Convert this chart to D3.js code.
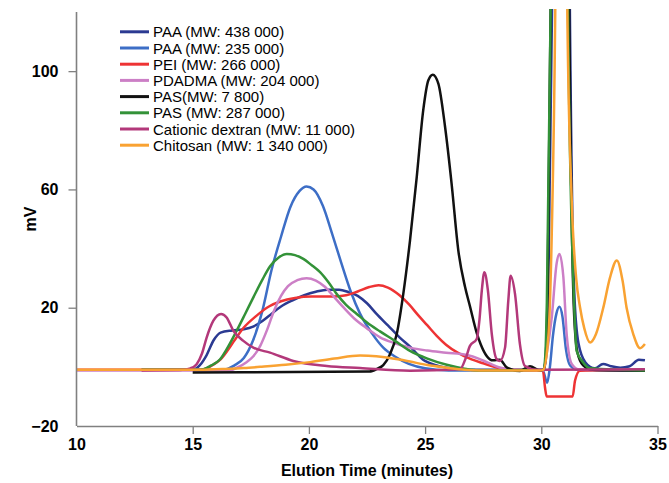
<!DOCTYPE html>
<html>
<head>
<meta charset="utf-8">
<script src="https://cdn.jsdelivr.net/npm/d3@7"></script>
<style>
  body { margin: 0; background: white; }
  text { font-family: "Liberation Sans", Arial, sans-serif; }
</style>
</head>
<body>
<div id="chart"></div>
<script>
// tick values
const xTicks = [10, 15, 20, 25, 30, 35];
const yTicks = [-20, 20, 60, 100];

// series: [minutes, mV]
const paa438 = [[12.8,-1],[15.0,-1],[15.3,0.5],[15.6,4],[15.9,9],[16.2,11.6],[16.7,12.3],[17.2,12.7],[17.6,13.6],[18.0,15.5],[18.4,18],[18.8,20.4],[19.3,22.5],[19.8,24.2],[20.3,25.4],[20.8,26.1],[21.3,26.1],[21.7,25.3],[22.1,24],[22.5,21.5],[22.9,18],[23.4,14],[23.9,10],[24.4,6.5],[24.9,2.5],[25.5,0.5],[26.2,-0.6],[27,-1],[30.1,-1],[30.22,5],[30.3,25],[30.46,120],[30.85,700],[31.23,120],[31.42,25],[31.6,8],[31.9,1.5],[32.3,-0.5],[32.66,1],[33.0,0.2],[33.4,-0.3],[33.8,0.2],[34.2,2.4],[34.46,2.2]];
const paa235 = [[12.8,-1],[16.3,-1],[16.8,0.5],[17.2,3],[17.6,9],[18.0,19],[18.4,33],[18.8,44],[19.2,54],[19.6,59.5],[19.9,61],[20.2,60],[20.6,54.5],[21.0,45],[21.4,35],[21.8,25.5],[22.2,18],[22.7,11.5],[23.2,6.5],[23.7,3.5],[24.3,1],[25,-0.5],[26,-1.2],[30.07,-1.3],[30.25,-5.4],[30.37,0],[30.5,10.5],[30.65,18],[30.78,20.3],[30.91,17],[31.06,6],[31.24,0.5],[31.58,-1],[34.46,-1.3]];
const pei = [[10,-1],[15.3,-1],[15.6,-0.5],[15.9,0.8],[16.2,2.5],[16.5,5.5],[16.8,9],[17.2,13.3],[17.7,17],[18.3,20.5],[18.8,22.2],[19.4,23.3],[20.1,23.8],[21.0,23.8],[21.6,24.2],[22.1,25.5],[22.6,27],[23.0,27.6],[23.4,26.8],[23.9,24.2],[24.3,21.2],[24.7,17.5],[25.1,14],[25.5,10.5],[25.9,7.5],[26.4,4.8],[27.0,2.5],[27.5,1.2],[28.2,-0.4],[29.1,-1.1],[30.07,-1.3],[30.16,-7],[30.23,-10],[31.35,-10],[31.45,-4.7],[31.66,-1.3],[34.46,-1]];
const pdadma = [[10,-1.2],[16.6,-1.2],[16.9,-0.3],[17.3,1.5],[17.6,3.5],[17.9,7],[18.2,12.5],[18.5,19],[18.8,24],[19.1,27.3],[19.5,29.3],[19.9,30],[20.3,29.2],[20.7,27],[21.1,23.5],[21.5,20],[22.0,16],[22.5,13],[23.06,10],[23.7,8],[24.35,6.5],[25.1,5.5],[25.9,4.8],[26.8,4],[27.3,2.8],[27.7,1.4],[28.2,-0.2],[29,-1],[30.1,-1.2],[30.23,4.3],[30.45,16.7],[30.66,35],[30.78,38.2],[30.95,30.3],[31.09,11.2],[31.31,1],[31.6,-0.8],[34.46,-1]];
const pas7800 = [[15.0,-1.9],[22.6,-1.6],[22.95,-0.6],[23.2,0.6],[23.49,4.3],[23.78,11.1],[24.06,24.6],[24.35,42.7],[24.64,64.2],[24.92,86.8],[25.14,96.9],[25.33,98.8],[25.57,95.8],[25.86,81.1],[26.14,62],[26.43,39.3],[26.72,27],[26.93,20.5],[27.22,11.5],[27.4,7.5],[27.65,3.7],[27.92,2.2],[28.22,2.4],[28.51,-0.2],[29.08,-1.4],[29.51,0.2],[29.94,-1.2],[30.1,-1],[30.2,5],[30.27,25],[30.4,120],[30.8,700],[31.2,120],[31.4,20],[31.55,5],[31.8,0.5],[32.2,-1],[34.46,-1.3]];
const pas287 = [[12.8,-1],[15.2,-1],[15.46,-0.8],[15.8,0.5],[16.17,2.5],[16.5,6.5],[16.89,12.2],[17.25,17.8],[17.61,23.5],[18.0,29.5],[18.33,34],[18.7,37],[19.05,38.2],[19.4,37.8],[19.76,36.5],[20.1,34.5],[20.48,32],[20.85,28.5],[21.2,24.6],[21.6,21],[22.06,17.9],[22.5,15],[23.06,12],[23.7,8.8],[24.35,5.4],[25.1,2.8],[25.93,0.7],[26.7,-0.6],[27.36,-1.2],[30.1,-1],[30.18,5],[30.24,22],[30.4,120],[30.75,700],[31.15,120],[31.41,22],[31.52,5.4],[31.8,1.5],[32.1,-0.5],[34.46,-1.2]];
const dextran = [[12.8,-1.2],[14.45,-1.1],[14.9,-0.5],[15.17,0.9],[15.4,4.5],[15.6,9.9],[15.89,15.6],[16.22,17.9],[16.46,16.7],[16.75,12.2],[17.18,8.8],[17.61,6.5],[18.33,4.8],[19.33,2],[20.77,0.3],[22.2,-0.4],[24.35,-1.3],[26.5,-0.8],[26.75,3],[26.93,7.1],[27.22,9.4],[27.34,16],[27.44,25.8],[27.55,32],[27.7,26],[27.87,11.1],[28.08,2.6],[28.22,2],[28.44,6.5],[28.58,22.4],[28.68,30.8],[28.87,24.6],[29.08,7.7],[29.3,0.3],[29.8,-1],[34.46,-0.8]];
const chitosan = [[10,-1],[15.3,-1],[16.46,-0.7],[17.2,-0.4],[17.9,0],[19.0,0.7],[20.05,1.6],[21.1,2.8],[22.2,3.8],[22.9,3.6],[23.35,3.2],[23.9,2.5],[24.35,1.8],[25.1,0.6],[25.93,-0.3],[26.7,-1],[27.37,-1.2],[29.94,-1.2],[30.08,-1],[30.3,10],[30.45,45],[30.6,120],[30.87,500],[31.12,120],[31.31,56],[31.5,30],[31.67,20],[31.85,13],[32.1,8.2],[32.35,11],[32.67,20.1],[32.95,30],[33.25,36],[33.5,29],[33.67,20],[33.96,11],[34.25,6.3],[34.46,7.7]];

const seriesNames = ["PAA (MW: 438 000)", "PAA (MW: 235 000)", "PEI (MW: 266 000)", "PDADMA (MW: 204 000)",
  "PAS(MW: 7 800)", "PAS (MW: 287 000)", "Cationic dextran (MW: 11 000)", "Chitosan (MW: 1 340 000)"];
const seriesColors = ["#2b3a92", "#3d6ec6", "#ee3334", "#cc7fc6", "#111111", "#339238", "#b3387a", "#f9a232"];
const seriesData = [paa438, paa235, pei, pdadma, pas7800, pas287, dextran, chitosan];

const width = 669, height = 483;
const margin = {top: 12, right: 11.5, bottom: 57, left: 76.5};

const svg = d3.select("#chart").append("svg")
  .attr("width", width)
  .attr("height", height);

const x = d3.scaleLinear().domain([10, 35]).range([margin.left, width - margin.right]);
const y = d3.scaleLinear().domain([-20, 120]).range([height - margin.bottom, margin.top]);

svg.append("clipPath").attr("id", "plot")
  .append("rect")
  .attr("x", x(10)).attr("y", margin.top - 3)
  .attr("width", x(35) - x(10)).attr("height", y(-20) - margin.top + 3);

const line = d3.line()
  .x(d => x(d[0]))
  .y(d => y(d[1]))
  .curve(d3.curveMonotoneX);

svg.append("g").attr("clip-path", "url(#plot)")
  .selectAll("path")
  .data(seriesData)
  .enter()
  .append("path")
  .attr("d", line)
  .attr("fill", "none")
  .attr("stroke", (d, i) => seriesColors[i])
  .attr("stroke-width", 2.5)
  .attr("stroke-linejoin", "round");

// axes
const xAxis = svg.append("g")
  .attr("transform", `translate(0,${y(-20)})`)
  .call(d3.axisBottom(x).tickValues(xTicks).tickSize(8).tickSizeOuter(0).tickPadding(5));
const yAxis = svg.append("g")
  .attr("transform", `translate(${x(10)},0)`)
  .call(d3.axisLeft(y).tickValues(yTicks).tickSize(8).tickSizeOuter(0).tickPadding(10));

[xAxis, yAxis].forEach(g => {
  g.select(".domain").attr("stroke", "#808080").attr("stroke-width", 1.6);
  g.selectAll(".tick line").attr("stroke", "#808080").attr("stroke-width", 1.3);
  g.selectAll(".tick text")
    .attr("fill", "#000")
    .style("font-size", "16px")
    .style("font-weight", "bold")
    .style("font-family", "'Liberation Sans', Arial, sans-serif");
});
// no tick marks at the corner
xAxis.selectAll(".tick").filter(d => d === 10).select("line").remove();
yAxis.selectAll(".tick").filter(d => d === -20).select("line").remove();
// y domain reaches to the top of the plot
yAxis.select(".domain").attr("d", `M0,${y(120)}V${y(-20)}`);

svg.append("text")
  .attr("x", (x(10) + x(35)) / 2)
  .attr("y", 476)
  .attr("text-anchor", "middle")
  .style("font-size", "16px")
  .style("font-weight", "bold")
  .text("Elution Time (minutes)");

svg.append("text")
  .attr("transform", `translate(36,${y(50)}) rotate(-90)`)
  .attr("text-anchor", "middle")
  .style("font-size", "16px")
  .style("font-weight", "bold")
  .text("mV");

// legend
const legend = svg.append("g");
seriesNames.forEach((name, i) => {
  const ly = 37.3 + i * 16.2;
  legend.append("line")
    .attr("x1", 120).attr("x2", 149)
    .attr("y1", ly - 5.5).attr("y2", ly - 5.5)
    .attr("stroke", seriesColors[i])
    .attr("stroke-width", 3);
  legend.append("text")
    .attr("x", 153)
    .attr("y", ly)
    .style("font-size", "15px")
    .text(name);
});
</script>
</body>
</html>
